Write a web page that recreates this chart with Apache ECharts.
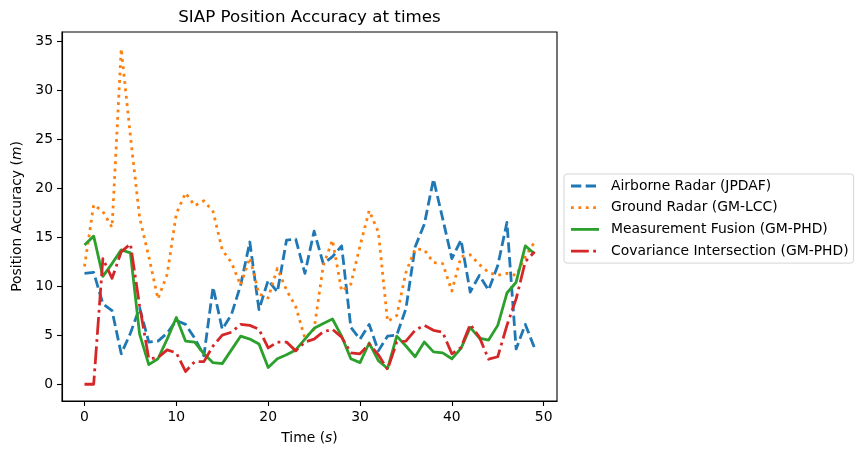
<!DOCTYPE html>
<html>
<head>
<meta charset="utf-8">
<script src="https://cdn.jsdelivr.net/npm/echarts@6/dist/echarts.min.js"></script>
<style>
html,body{margin:0;padding:0;background:#fff;}
#chart{width:861px;height:457px;}
</style>
</head>
<body>
<div id="chart"></div>
<script>
const times = [0,1,2,3,4,5,6,7,8,9,10,11,12,13,14,15,16,17,18,19,20,21,22,23,24,25,26,27,28,29,30,31,32,33,34,35,36,37,38,39,40,41,42,43,44,45,46,47,48,49];
const airborneJPDAF = [11.3,11.4,8.2,7.5,3.1,5.2,7.8,4.3,4.4,5.2,6.5,6.1,4.7,2.9,9.9,5.6,7.1,10.1,14.5,7.6,10.6,9.4,14.7,14.8,11.3,15.6,12.3,13.0,14.1,5.8,4.6,6.1,3.4,4.9,5.0,7.7,14.0,16.3,20.9,16.9,12.8,14.7,9.4,11.1,9.6,12.1,16.5,3.6,6.1,3.7];
const groundGMLCC = [12.0,18.3,17.6,16.0,34.2,25.3,17.0,13.0,8.7,11.2,17.4,19.5,18.2,18.7,17.6,13.7,12.4,10.1,12.9,9.2,8.8,11.8,9.6,7.9,4.7,5.6,12.1,14.7,9.5,10.2,14.1,17.7,15.5,6.4,7.0,11.4,13.8,13.7,12.4,12.3,9.5,13.0,13.2,12.2,11.4,11.1,11.3,11.1,13.0,14.5];
const fusionGMPHD = [14.2,15.1,11.0,12.3,13.7,13.4,5.1,2.0,2.6,4.6,6.8,4.4,4.3,3.1,2.2,2.1,3.5,4.9,4.6,4.1,1.7,2.6,3.0,3.5,4.6,5.7,6.2,6.65,4.9,2.6,2.2,4.2,2.4,1.6,4.9,3.9,2.8,4.3,3.3,3.2,2.6,3.65,5.8,4.7,4.5,6.0,9.3,10.4,14.1,13.3];
const covIntersectGMPHD = [0,0,12.8,10.8,13.5,14.3,8.0,2.6,2.7,3.5,3.2,1.3,2.3,2.3,3.9,5.0,5.3,6.1,6.0,5.6,3.7,4.3,4.3,3.4,4.3,4.6,5.35,5.6,4.8,3.2,3.1,4.1,3.0,1.5,4.3,4.4,5.5,6.0,5.5,5.3,3.1,3.75,6.1,4.8,2.55,2.8,6.0,8.7,12.5,13.5];
const seriesNames = ['Airborne Radar (JPDAF)','Ground Radar (GM-LCC)','Measurement Fusion (GM-PHD)','Covariance Intersection (GM-PHD)'];
const xTicks = [0,10,20,30,40,50];
const yTicks = [0,5,10,15,20,25,30,35];

const FONT = 'DejaVu Sans';
const colors = ['#1f77b4','#ff7f0e','#2ca02c','#d62728'];
const dashes = [[10.3,4.4],[2.8,4.6],'solid',[17.8,4.4,2.8,4.4]];
const allData = [airborneJPDAF, groundGMLCC, fusionGMPHD, covIntersectGMPHD];

const chart = echarts.init(document.getElementById('chart'), null, {renderer:'canvas'});
const axisCommon = {
  type:'value',
  splitLine:{show:false},
  axisLine:{show:true,onZero:false,lineStyle:{color:'#000',width:1.1}},
  axisTick:{show:true,inside:false,length:5,lineStyle:{color:'#000',width:1.1}},
  axisLabel:{color:'#000',fontFamily:FONT,fontSize:13.9,margin:8},
  nameTextStyle:{color:'#000',fontFamily:FONT,fontSize:13.9,
    rich:{i:{fontStyle:'italic',fontFamily:FONT,fontSize:13.9,color:'#000'}}},
  nameLocation:'middle'
};
const option = {
  animation:false,
  backgroundColor:'#fff',
  grid:{left:62,top:32,width:495,height:369,show:true,borderColor:'#000',borderWidth:1.1,containLabel:false},
  xAxis:Object.assign({}, axisCommon, {
    min:-2.45, max:51.45,
    axisTick:Object.assign({}, axisCommon.axisTick, {customValues:xTicks}),
    axisLabel:Object.assign({}, axisCommon.axisLabel, {customValues:xTicks, margin:9}),
    name:'Time ({i|s})', nameGap:30
  }),
  yAxis:Object.assign({}, axisCommon, {
    min:-1.71, max:35.91,
    axisTick:Object.assign({}, axisCommon.axisTick, {customValues:yTicks}),
    axisLabel:Object.assign({}, axisCommon.axisLabel, {customValues:yTicks, margin:9}),
    name:'Position Accuracy ({i|m})', nameGap:37, nameRotate:90
  }),
  legend:{
    orient:'vertical', left:564, top:174,
    padding:[5,5,5,5.6],
    itemWidth:28, itemHeight:14, itemGap:7.7,
    borderColor:'#d5d5d5', borderWidth:1, borderRadius:3,
    backgroundColor:'rgba(255,255,255,0.8)',
    itemStyle:{color:'rgba(0,0,0,0)', borderColor:'rgba(0,0,0,0)', borderWidth:0, opacity:0},
    lineStyle:{width:2.8},
    textStyle:{color:'#000',fontFamily:FONT,fontSize:13.9,padding:[0,0,0,7]},
    data:seriesNames
  },
  graphic:[{
    type:'text', x:309.5, y:18,
    style:{text:'SIAP Position Accuracy at times', fill:'#000', font:'16.7px "DejaVu Sans"', textAlign:'center', textVerticalAlign:'middle'}
  }],
  series: seriesNames.map((n,k)=>({
    name:n, type:'line', symbol:'none', showSymbol:false,
    data: times.map((t,i)=>[t, allData[k][i]]),
    lineStyle:{color:colors[k], width:2.8, type:dashes[k], cap:'butt', join:'round'},
    itemStyle:{color:colors[k]},
    clip:true
  }))
};
chart.setOption(option);
</script>
</body>
</html>
